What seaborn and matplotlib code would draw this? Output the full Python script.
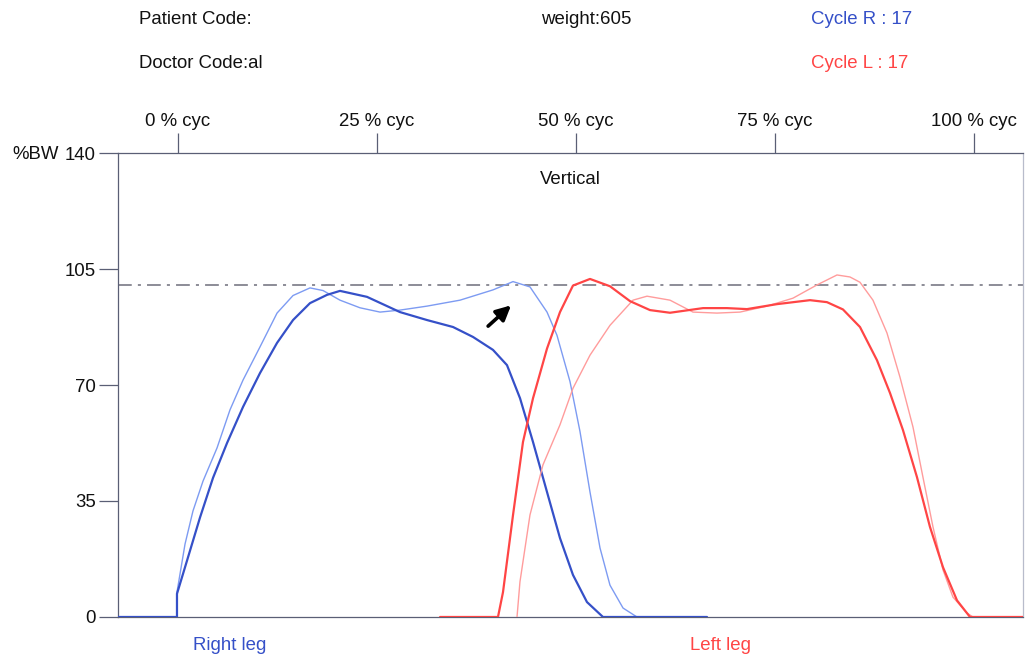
import matplotlib
matplotlib.use("Agg")
import matplotlib.pyplot as plt
import seaborn as sns
import pandas as pd

# --- data (x in % of cycle, y in %BW) ---
right_thick_x = [-7.54, -0.13, -0.13, 1.13, 2.76, 4.40, 6.16, 8.17, 10.30, 12.44, 14.45, 16.58,
                 18.72, 20.35, 23.74, 27.89, 31.28, 34.55, 37.06, 39.57, 41.33, 42.97, 44.60,
                 46.36, 47.99, 49.62, 51.38, 53.39, 66.46]
right_thick_y = [0, 0, 7, 17, 30, 42, 52.5, 63.4, 73.6, 82.7, 89.6, 94.7,
                 97.2, 98.4, 96.6, 92, 89.6, 87.5, 84.5, 80.6, 76, 66, 52.8,
                 37.7, 23.8, 12.7, 4.5, 0, 0]

right_thin_x = [-0.13, -0.13, 0.88, 1.88, 3.14, 4.90, 6.53, 8.17, 10.30, 12.44, 14.45, 16.58,
                18.22, 20.35, 22.86, 25.38, 27.89, 31.28, 35.43, 39.57, 42.09, 44.22, 46.36,
                47.61, 49.25, 50.50, 51.76, 53.02, 54.27, 55.91, 57.66]
right_thin_y = [0, 7.5, 22, 32, 41, 51, 62.5, 71.5, 81.5, 91.7, 97, 99.3,
                98.5, 95.6, 93.3, 92, 92.6, 93.8, 95.6, 98.7, 101.2, 99.6, 92,
                85, 71, 56, 37.7, 20.8, 9.6, 2.7, 0]

left_thick_x = [32.92, 40.20, 40.83, 42.09, 43.34, 44.60, 46.36, 47.99, 49.62, 51.76, 54.27,
                56.79, 59.30, 61.81, 65.96, 68.97, 71.48, 75.25, 79.40, 81.53, 83.54, 85.68,
                87.81, 89.45, 91.08, 92.84, 94.47, 96.11, 97.87, 99.50, 106.16]
left_thick_y = [0, 0, 7.5, 30.8, 52.8, 66, 81, 92, 100, 102, 99.8,
                95.3, 92.6, 91.8, 93.2, 93.2, 92.9, 94.4, 95.6, 95, 92.8, 87.5,
                77.5, 67.6, 56.4, 42.2, 27.2, 15, 5, 0, 0]

left_thin_x = [42.59, 42.96, 44.22, 45.85, 47.99, 49.62, 51.76, 54.27, 57.16, 58.92, 61.81,
               64.70, 67.71, 70.60, 73.99, 77.26, 80.28, 82.79, 84.42, 85.68, 87.31, 89.07,
               90.70, 92.34, 93.59, 94.85, 96.11, 97.36, 99.12, 99.87]
left_thin_y = [0, 10.6, 30.8, 45.9, 58, 69, 79, 88, 95.6, 96.8, 95.6,
               92, 91.7, 92, 93.8, 96.2, 100.2, 103.2, 102.6, 101, 95.6, 85.7,
               72.4, 57.3, 42.2, 27.2, 14.2, 6, 1.2, 0]

y_ticks = [0, 35, 70, 105, 140]
cyc_ticks = [0, 25, 50, 75, 100]
cyc_labels = ["0 % cyc", "25 % cyc", "50 % cyc", "75 % cyc", "100 % cyc"]
bw_line = 100.2

BLUE = "#3550c8"
BLUE_LIGHT = "#7d9bf2"
RED = "#ff4545"
RED_LIGHT = "#ff9c9c"
AXIS = "#5a5f75"
FS = 13.4

sns.set_theme(style="white")
plt.rcParams["font.family"] = ["Liberation Sans", "DejaVu Sans"]

fig = plt.figure(figsize=(10.27, 6.57), dpi=100)
ax = fig.add_axes([0.1149, 0.0609, 0.8812, 0.7062])

ax.axhline(bw_line, color="#6e6e7a", lw=1.1, ls=(0, (9, 4, 2, 4)), zorder=1)

series = [
    (right_thin_x, right_thin_y, BLUE_LIGHT, 1.0),
    (right_thick_x, right_thick_y, BLUE, 1.6),
    (left_thin_x, left_thin_y, RED_LIGHT, 1.0),
    (left_thick_x, left_thick_y, RED, 1.6),
]
for xs, ys, col, lw in series:
    df = pd.DataFrame({"cyc": xs, "bw": ys})
    sns.lineplot(data=df, x="cyc", y="bw", ax=ax, color=col, lw=lw,
                 estimator=None, sort=False, zorder=3)

ax.set_xlim(-7.54, 106.16)
ax.set_ylim(0, 140)
ax.set_xlabel("")
ax.set_ylabel("")

# top axis with % cycle ticks
ax.xaxis.tick_top()
ax.set_xticks(cyc_ticks)
ax.set_xticklabels(cyc_labels, fontsize=FS, color="#111111")
ax.tick_params(axis="x", direction="out", length=14.5, width=0.9, color=AXIS, pad=2)

ax.set_yticks(y_ticks)
ax.set_yticklabels([str(v) for v in y_ticks], fontsize=FS, color="#111111")
ax.tick_params(axis="y", left=True, direction="out", length=14, width=0.9, color=AXIS, pad=2)

for side in ["top", "left", "right", "bottom"]:
    ax.spines[side].set_color(AXIS)
    ax.spines[side].set_linewidth(0.9)
ax.spines["right"].set_color("#b8bccb")

ax.text(0.5, 0.943, "Vertical", transform=ax.transAxes, ha="center", va="center",
        fontsize=FS, color="#111111")

ax.annotate("", xy=(42.1, 94.6), xytext=(38.7, 87.2),
            arrowprops=dict(arrowstyle="-|>", color="black", lw=2.6, mutation_scale=22))

# header texts
W, H = 1027, 657
def ftxt(px, py, s, color="#111111", ha="left"):
    fig.text(px / W, 1 - py / H, s, ha=ha, va="center", fontsize=FS, color=color)

ftxt(139, 20, "Patient Code:")
ftxt(541, 20, "weight:605")
ftxt(811, 20, "Cycle R : 17", color=BLUE)
ftxt(139, 63, "Doctor Code:al")
ftxt(811, 63, "Cycle L : 17", color=RED)
ftxt(12, 155, "%BW")
ftxt(193, 646, "Right leg", color=BLUE)
ftxt(690, 646, "Left leg", color=RED)

fig.savefig("out.png", dpi=100)
